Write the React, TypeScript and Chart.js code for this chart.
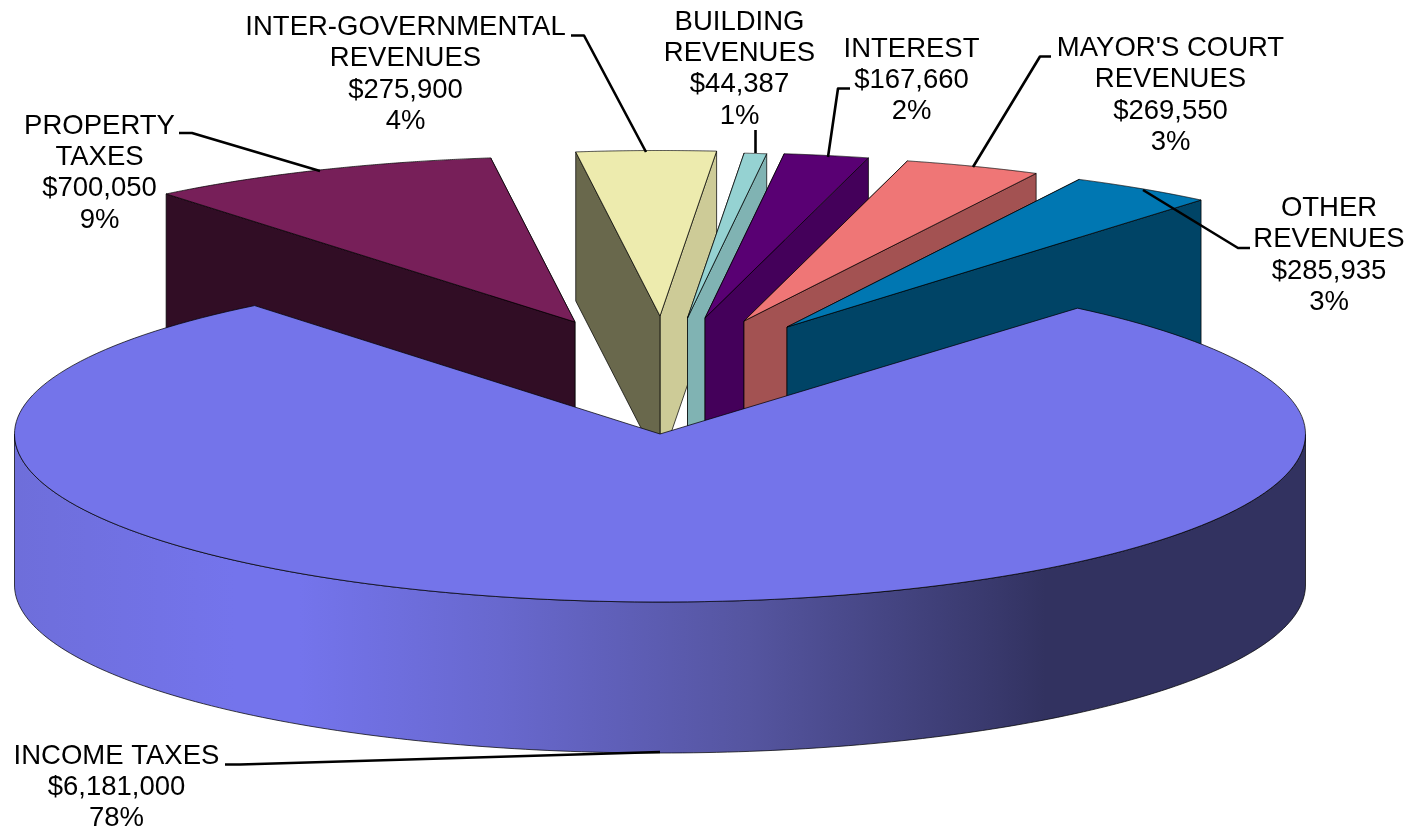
import React, { useEffect, useRef } from "react";
import { Chart, registerables } from "chart.js";

Chart.register(...registerables);

// ---- data ----
const categories = [
  "INCOME TAXES",
  "PROPERTY TAXES",
  "INTER-GOVERNMENTAL REVENUES",
  "BUILDING REVENUES",
  "INTEREST",
  "MAYOR'S COURT REVENUES",
  "OTHER REVENUES",
];
const values = [6181000, 700050, 275900, 44387, 167660, 269550, 285935];
const percentLabels = ["78%", "9%", "4%", "1%", "2%", "3%", "3%"];

// ---- how each category name breaks into lines ----
const nameLines = [
  ["INCOME TAXES"],
  ["PROPERTY", "TAXES"],
  ["INTER-GOVERNMENTAL", "REVENUES"],
  ["BUILDING", "REVENUES"],
  ["INTEREST"],
  ["MAYOR'S COURT", "REVENUES"],
  ["OTHER", "REVENUES"],
];

// ---- styles ----
const topColors = ["#7474EA", "#771F59", "#EDEBAE", "#95D2D2", "#590073", "#EF7676", "#0077B2"];
const leftWallColors = ["#7474EA", "#310D25", "#69684C", "#80B3B3", "#44005A", "#A35252", "#004466"];
const rightWallColors = ["#7474EA", "#310D25", "#CDCB97", "#80B3B3", "#44005A", "#A35252", "#004466"];
const sideStops: [number, string][] = [
  [0, "#6E6EDA"],
  [0.17, "#7474EC"],
  [0.2208, "#7474EC"],
  [0.376, "#6868CE"],
  [0.569, "#5555A0"],
  [0.763, "#38386B"],
  [0.7986, "#323260"],
  [1, "#323260"],
];

// ---- projection of the tilted pie ----
const CX = 660;
const CY = 434;
const RX = 645.5;
const RY_FRONT = 168;
const RY_BACK = 165;
const RY_SLICE = 165.5;
const DEPTH_MAIN = 151;
const DEPTH_SLICE = 149;
const MAIN_TURN = (0.4 * Math.PI) / 180;
const explode: [number, number][] = [
  [0, 0],
  [-85, -112],
  [0, -118],
  [27.5, -116],
  [45, -116],
  [84, -113],
  [127, -107],
];

// ---- label layout: centre x, first baseline, and leader path ----
const FONT_SIZE = 27.5;
const LINE_H = 31.4;
const labelAnchors: [number, number][] = [
  [116.5, 763.5],
  [99.5, 133.5],
  [405.5, 35],
  [739.5, 29.5],
  [911.5, 56.5],
  [1170.5, 56],
  [1329, 216],
];
const leaders: [number, number][][] = [
  [[225, 764.5], [240, 764.5], [660, 752]],
  [[179, 133], [192, 133], [320, 171]],
  [[571, 35.5], [584, 35.5], [646, 152]],
  [[755.5, 130], [755.5, 153]],
  [[850, 88.5], [838, 88.5], [828, 157]],
  [[1051, 56.5], [1040, 56.5], [973, 167]],
  [[1250, 248], [1238, 248], [1143, 190]],
];

const pie3dPlugin = {
  id: "pie3d",
  beforeDatasetsDraw(chart: any) {
    const ctx: CanvasRenderingContext2D = chart.ctx;
    const arcs = chart.getDatasetMeta(0).data;
    const outline = "rgba(0,0,0,0.72)";

    const rim = (i: number, angle: number): [number, number] => {
      const a = i === 0 ? angle + MAIN_TURN : angle;
      const ry = i === 0 ? (Math.sin(a) < 0 ? RY_BACK : RY_FRONT) : RY_SLICE;
      return [CX + explode[i][0] + RX * Math.cos(a), CY + explode[i][1] + ry * Math.sin(a)];
    };
    const poly = (pts: [number, number][], fill: string | CanvasGradient) => {
      ctx.beginPath();
      pts.forEach((p, k) => (k ? ctx.lineTo(p[0], p[1]) : ctx.moveTo(p[0], p[1])));
      ctx.closePath();
      ctx.fillStyle = fill;
      ctx.fill();
      ctx.lineWidth = 1;
      ctx.strokeStyle = outline;
      ctx.stroke();
    };
    const wall = (i: number, a: number, color: string) => {
      const apex: [number, number] = [CX + explode[i][0], CY + explode[i][1]];
      const p = rim(i, a);
      poly(
        [apex, p, [p[0], p[1] + DEPTH_SLICE], [apex[0], apex[1] + DEPTH_SLICE]],
        color
      );
    };
    // the top face is the library's own arc element, under the tilt transform
    const drawArc = (i: number, ry: number) => {
      const el = arcs[i];
      const R = el.outerRadius;
      ctx.save();
      ctx.translate(CX + explode[i][0], CY + explode[i][1]);
      ctx.scale(RX / R, ry / R);
      if (i === 0) ctx.rotate(MAIN_TURN);
      ctx.translate(-el.x, -el.y);
      el.draw(ctx);
      ctx.restore();
    };
    const top = (i: number) => {
      const el = arcs[i];
      if (i === 0) {
        // front and back halves have slightly different depth (perspective)
        ctx.save();
        ctx.beginPath();
        ctx.rect(0, CY, chart.width, chart.height - CY);
        ctx.clip();
        drawArc(0, RY_FRONT);
        ctx.restore();
        ctx.save();
        ctx.beginPath();
        ctx.rect(0, 0, chart.width, CY + 0.5);
        ctx.clip();
        drawArc(0, RY_BACK);
        ctx.restore();
      } else {
        drawArc(i, RY_SLICE);
      }
      // thin outline in screen space
      const a0 = el.startAngle;
      const a1 = el.endAngle;
      ctx.beginPath();
      ctx.moveTo(CX + explode[i][0], CY + explode[i][1]);
      const n = 180;
      for (let k = 0; k <= n; k++) {
        const p = rim(i, a0 + ((a1 - a0) * k) / n);
        ctx.lineTo(p[0], p[1]);
      }
      ctx.closePath();
      ctx.lineWidth = 1;
      ctx.strokeStyle = outline;
      ctx.stroke();
    };

    // exploded slices, drawn from the back centre towards the right
    for (let i = 1; i < arcs.length; i++) {
      const el = arcs[i];
      const leftOfCentre = Math.cos((el.startAngle + el.endAngle) / 2) < 0;
      if (leftOfCentre) {
        wall(i, el.endAngle, rightWallColors[i]);
        wall(i, el.startAngle, leftWallColors[i]);
      } else {
        wall(i, el.startAngle, leftWallColors[i]);
        wall(i, el.endAngle, rightWallColors[i]);
      }
      top(i);
    }

    // main slice: curved front wall, then its top face
    const grad = ctx.createLinearGradient(CX - RX, 0, CX + RX, 0);
    sideStops.forEach(([t, c]) => grad.addColorStop(t, c));
    const front: [number, number][] = [];
    const n = 180;
    for (let k = 0; k <= n; k++) front.push(rim(0, (Math.PI * k) / n - MAIN_TURN));
    const back = front
      .slice()
      .reverse()
      .map((p) => [p[0], p[1] + DEPTH_MAIN] as [number, number]);
    poly(front.concat(back), grad);
    top(0);

    // leader lines
    ctx.strokeStyle = "#000000";
    ctx.lineWidth = 2.6;
    ctx.lineJoin = "round";
    leaders.forEach((path) => {
      ctx.beginPath();
      path.forEach((p, k) => (k ? ctx.lineTo(p[0], p[1]) : ctx.moveTo(p[0], p[1])));
      ctx.stroke();
    });

    // labels
    ctx.fillStyle = "#000000";
    ctx.font = `${FONT_SIZE}px "Liberation Sans", Arial, sans-serif`;
    ctx.textAlign = "center";
    ctx.textBaseline = "alphabetic";
    categories.forEach((_, i) => {
      const lines = [
        ...nameLines[i],
        "$" + values[i].toLocaleString("en-US"),
        percentLabels[i],
      ];
      lines.forEach((t, k) => {
        ctx.fillText(t, labelAnchors[i][0], labelAnchors[i][1] + k * LINE_H);
      });
    });

    return false; // the library's flat drawing of the pie is replaced by the above
  },
};

export default function App() {
  const ref = useRef<HTMLCanvasElement>(null);
  useEffect(() => {
    const chart = new Chart(ref.current as HTMLCanvasElement, {
      type: "pie",
      data: {
        labels: categories,
        datasets: [
          {
            data: values,
            backgroundColor: topColors,
            borderWidth: 0,
          },
        ],
      },
      options: {
        animation: false,
        responsive: false,
        devicePixelRatio: 1,
        rotation: 39.9,
        plugins: {
          legend: { display: false },
          tooltip: { enabled: false },
        },
      },
      plugins: [pie3dPlugin],
    } as any);
    return () => chart.destroy();
  }, []);
  return (
    <canvas
      ref={ref}
      width={1414}
      height={831}
      style={{ position: "absolute", left: 0, top: 0, width: 1414, height: 831, background: "#fff" }}
    />
  );
}
